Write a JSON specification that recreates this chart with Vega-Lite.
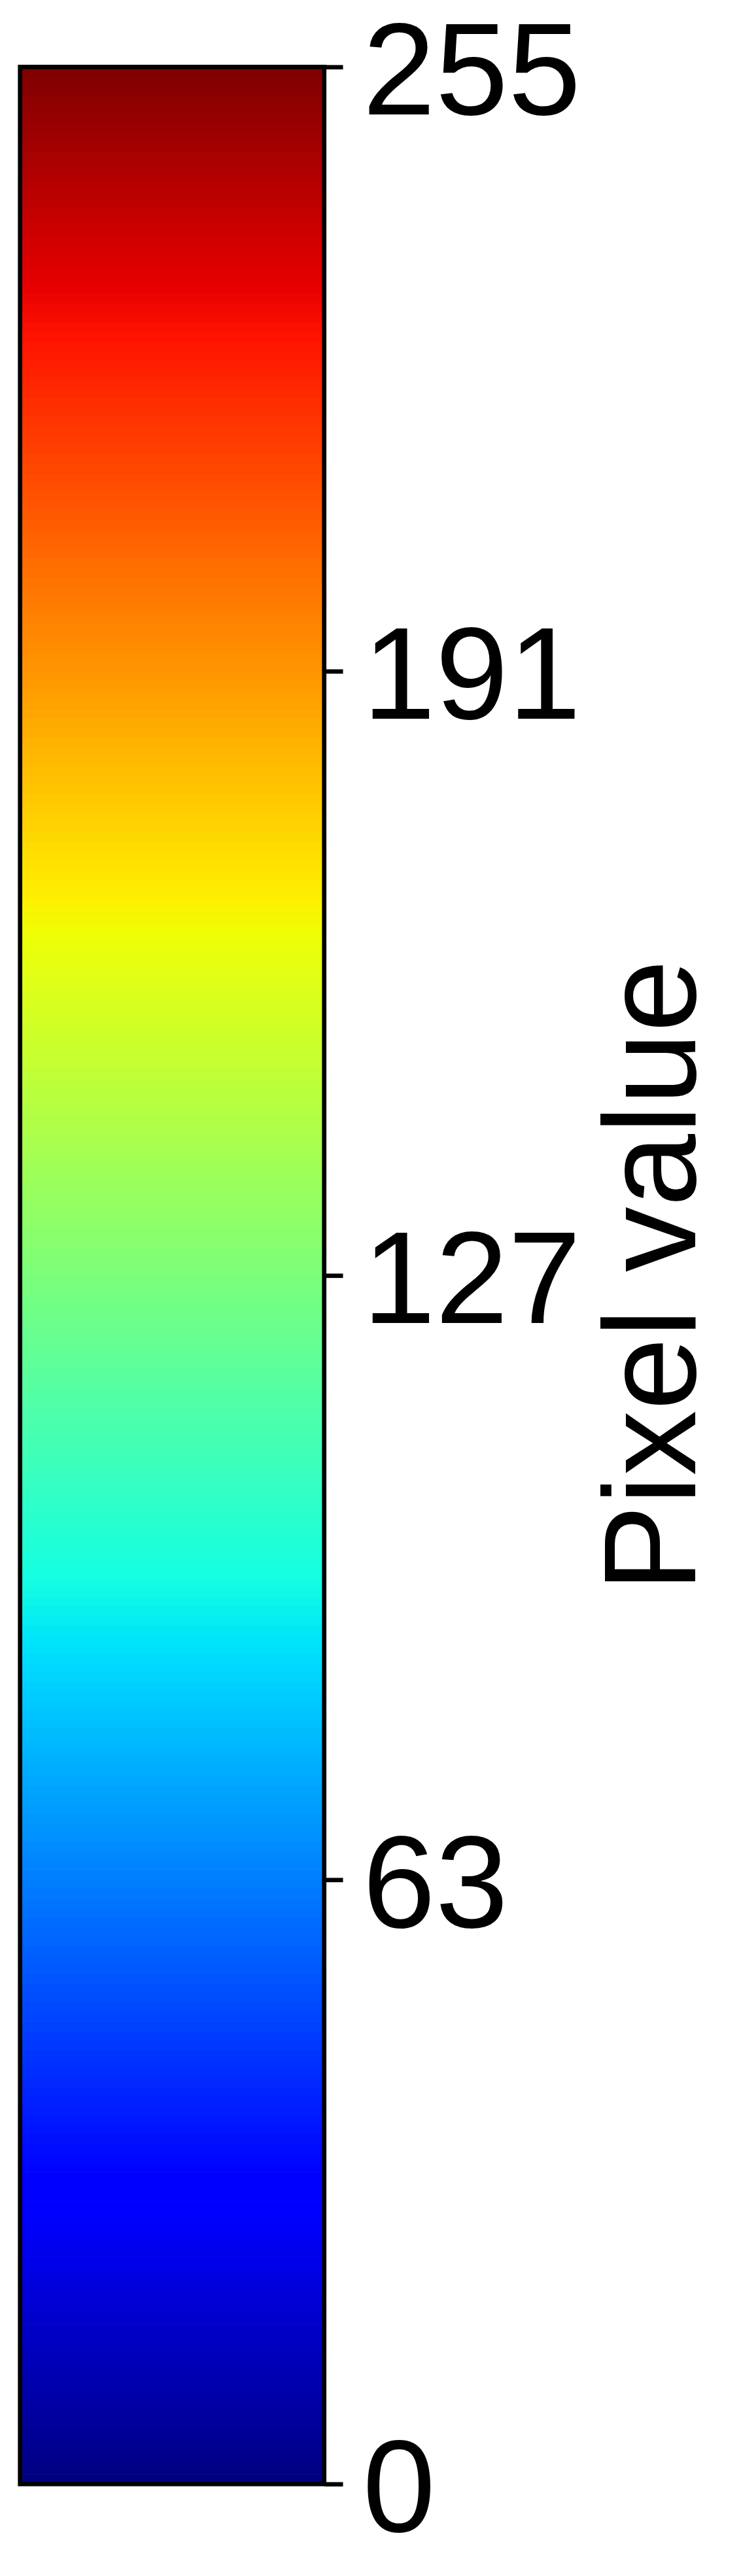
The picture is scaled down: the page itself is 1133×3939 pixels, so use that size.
{
  "$schema": "https://vega.github.io/schema/vega-lite/v6.json",
  "autosize": "none",
  "width": 465,
  "height": 3696,
  "padding": {"left": 30.7, "top": 102.3, "right": 637.3, "bottom": 140.7},
  "background": "white",
  "config": {"view": {"stroke": null}},
  "layer": [
    {
      "data": {"values": [
        {"v":0},{"v":1},{"v":2},{"v":3},{"v":4},{"v":5},{"v":6},{"v":7},{"v":8},{"v":9},
        {"v":10},{"v":11},{"v":12},{"v":13},{"v":14},{"v":15},{"v":16},{"v":17},{"v":18},{"v":19},
        {"v":20},{"v":21},{"v":22},{"v":23},{"v":24},{"v":25},{"v":26},{"v":27},{"v":28},{"v":29},
        {"v":30},{"v":31},{"v":32},{"v":33},{"v":34},{"v":35},{"v":36},{"v":37},{"v":38},{"v":39},
        {"v":40},{"v":41},{"v":42},{"v":43},{"v":44},{"v":45},{"v":46},{"v":47},{"v":48},{"v":49},
        {"v":50},{"v":51},{"v":52},{"v":53},{"v":54},{"v":55},{"v":56},{"v":57},{"v":58},{"v":59},
        {"v":60},{"v":61},{"v":62},{"v":63},{"v":64},{"v":65},{"v":66},{"v":67},{"v":68},{"v":69},
        {"v":70},{"v":71},{"v":72},{"v":73},{"v":74},{"v":75},{"v":76},{"v":77},{"v":78},{"v":79},
        {"v":80},{"v":81},{"v":82},{"v":83},{"v":84},{"v":85},{"v":86},{"v":87},{"v":88},{"v":89},
        {"v":90},{"v":91},{"v":92},{"v":93},{"v":94},{"v":95},{"v":96},{"v":97},{"v":98},{"v":99},
        {"v":100},{"v":101},{"v":102},{"v":103},{"v":104},{"v":105},{"v":106},{"v":107},{"v":108},{"v":109},
        {"v":110},{"v":111},{"v":112},{"v":113},{"v":114},{"v":115},{"v":116},{"v":117},{"v":118},{"v":119},
        {"v":120},{"v":121},{"v":122},{"v":123},{"v":124},{"v":125},{"v":126},{"v":127},{"v":128},{"v":129},
        {"v":130},{"v":131},{"v":132},{"v":133},{"v":134},{"v":135},{"v":136},{"v":137},{"v":138},{"v":139},
        {"v":140},{"v":141},{"v":142},{"v":143},{"v":144},{"v":145},{"v":146},{"v":147},{"v":148},{"v":149},
        {"v":150},{"v":151},{"v":152},{"v":153},{"v":154},{"v":155},{"v":156},{"v":157},{"v":158},{"v":159},
        {"v":160},{"v":161},{"v":162},{"v":163},{"v":164},{"v":165},{"v":166},{"v":167},{"v":168},{"v":169},
        {"v":170},{"v":171},{"v":172},{"v":173},{"v":174},{"v":175},{"v":176},{"v":177},{"v":178},{"v":179},
        {"v":180},{"v":181},{"v":182},{"v":183},{"v":184},{"v":185},{"v":186},{"v":187},{"v":188},{"v":189},
        {"v":190},{"v":191},{"v":192},{"v":193},{"v":194},{"v":195},{"v":196},{"v":197},{"v":198},{"v":199},
        {"v":200},{"v":201},{"v":202},{"v":203},{"v":204},{"v":205},{"v":206},{"v":207},{"v":208},{"v":209},
        {"v":210},{"v":211},{"v":212},{"v":213},{"v":214},{"v":215},{"v":216},{"v":217},{"v":218},{"v":219},
        {"v":220},{"v":221},{"v":222},{"v":223},{"v":224},{"v":225},{"v":226},{"v":227},{"v":228},{"v":229},
        {"v":230},{"v":231},{"v":232},{"v":233},{"v":234},{"v":235},{"v":236},{"v":237},{"v":238},{"v":239},
        {"v":240},{"v":241},{"v":242},{"v":243},{"v":244},{"v":245},{"v":246},{"v":247},{"v":248},{"v":249},
        {"v":250},{"v":251},{"v":252},{"v":253},{"v":254},{"v":255}
      ]},
      "mark": {"type": "rect", "strokeWidth": 1},
      "encoding": {
        "y": {"field": "v", "type": "ordinal", "sort": "descending",
              "scale": {"paddingInner": 0, "paddingOuter": 0}, "axis": null},
        "fill": {"field": "v", "type": "quantitative", "legend": null,
                 "scale": {"type": "linear", "interpolate": "rgb",
                           "domain": [0, 28.05, 31.875, 86.7, 89.25, 95.625, 163.2, 165.75, 168.3, 226.95, 232.05, 255],
                           "range": ["#000080", "#0000ff", "#0000ff", "#00dbff", "#00e6f7", "#15ffe2", "#eeff08", "#f7f600", "#ffec00", "#ff1300", "#e80000", "#800000"]}},
        "stroke": {"field": "v", "type": "quantitative", "legend": null,
                 "scale": {"type": "linear", "interpolate": "rgb",
                           "domain": [0, 28.05, 31.875, 86.7, 89.25, 95.625, 163.2, 165.75, 168.3, 226.95, 232.05, 255],
                           "range": ["#000080", "#0000ff", "#0000ff", "#00dbff", "#00e6f7", "#15ffe2", "#eeff08", "#f7f600", "#ffec00", "#ff1300", "#e80000", "#800000"]}}
      }
    },
    {
      "data": {"values": [{"t": 0}, {"t": 255}]},
      "mark": {"type": "point", "opacity": 0},
      "encoding": {
        "y": {"field": "t", "type": "quantitative",
              "scale": {"domain": [0, 255], "nice": false, "zero": false},
              "axis": {
                "orient": "right",
                "values": [0, 63.75, 127.5, 191.25, 255],
                "labelExpr": "floor(datum.value)",
                "grid": false,
                "domain": false,
                "ticks": true,
                "tickSize": 28.3,
                "tickWidth": 6.7,
                "tickColor": "black",
                "labelFont": "Liberation Sans",
                "labelFontSize": 200,
                "labelColor": "black",
                "labelPadding": 30,
                "labelBaseline": "alphabetic",
                "labelOffset": 72,
                "labelFlush": false,
                "labelOverlap": false,
                "labelBound": false,
                "labelLimit": 0,
                "title": "Pixel value",
                "titleFont": "Liberation Sans",
                "titleFontSize": 200,
                "titleFontWeight": "normal",
                "titleColor": "black",
                "titleAngle": 270,
                "titleAlign": "center",
                "titleBaseline": "alphabetic",
                "titleLimit": 0,
                "titleX": 566.3,
                "titleY": 1848
              }}
      }
    },
    {
      "data": {"values": [{}]},
      "mark": {"type": "rect", "filled": false, "stroke": "black", "strokeWidth": 6.7},
      "encoding": {}
    }
  ],
  "resolve": {"scale": {"y": "independent"}}
}
